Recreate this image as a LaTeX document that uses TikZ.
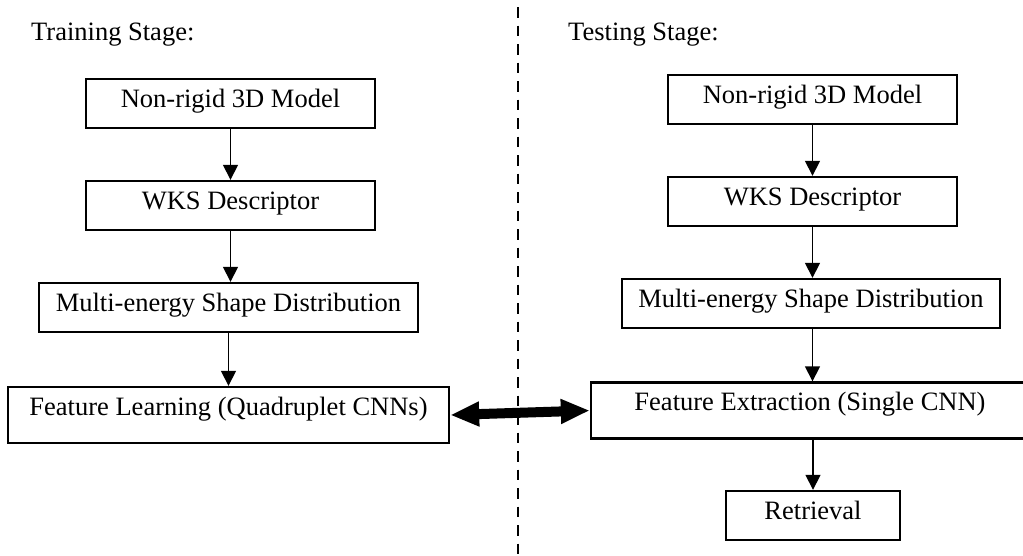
\documentclass[tikz,border=0pt]{standalone}
\usepackage{fontspec}
\setmainfont{Liberation Serif}
\usetikzlibrary{arrows.meta}

\tikzset{
  stagebox/.style={shape=rectangle,draw=black,line width=2.4pt,inner xsep=4pt,inner ysep=4pt,
    text height=24pt,text depth=17pt,font=\fontsize{26.5}{30}\selectfont},
  tallbox/.style={stagebox,text depth=24pt},
  flow/.style={-{Triangle[width=15pt,length=15pt]},line width=1.6pt},
}

\begin{document}
\begin{tikzpicture}[x=1pt,y=-1pt]
      \clip (0,0) rectangle (1023,555);

      % training side
      \node[anchor=base west,inner sep=0pt,font=\fontsize{26.5}{30}\selectfont] (trainlabel) at (31,40) {Training Stage:};
      \node[stagebox,minimum width=289pt] (A1) at (230.5,103.5) {Non-rigid 3D Model};
      \node[stagebox,minimum width=289pt] (A2) at (230.5,205.5) {WKS Descriptor};
      \node[stagebox,minimum width=379pt] (A3) at (228.5,307.5) {Multi-energy Shape Distribution};
      \node[tallbox,minimum width=441pt] (A4) at (228.5,415) {Feature Learning (Quadruplet CNNs)};

      % testing side
      \node[anchor=base west,inner sep=0pt,font=\fontsize{26.5}{30}\selectfont] (testlabel) at (568,40) {Testing Stage:};
      \node[stagebox,minimum width=289pt] (B1) at (812.5,99.5) {Non-rigid 3D Model};
      \node[stagebox,minimum width=289pt] (B2) at (812.5,201.5) {WKS Descriptor};
      \node[stagebox,minimum width=378pt] (B3) at (811,303.5) {Multi-energy Shape Distribution};
      \node[tallbox,minimum width=438pt] (B4) at (810,410.5) {Feature Extraction (Single CNN)};
      \node[stagebox,minimum width=174pt] (B5) at (813,515.5) {Retrieval};

      % divider
      \coordinate (top) at (518,7);
      \coordinate (bottom) at (518,560);
      \draw[line width=2.4pt,dash pattern=on 10.5pt off 8pt] (top) -- (bottom);

      \path [flow] (A1) edge (A2);
      \path [flow] (A2) edge (A1.south |- A3.north);
      \path [flow] (A3) edge (A4);
      \path [flow] (B1) edge (B2);
      \path [flow] (B2) edge (B2.south |- B3.north);
      \path [flow] (B3.south -| B2.south) edge (B2.south |- B4.north);
      \path [flow] (B4.south -| B5.north) edge (B5);

      \draw[{Triangle[width=23pt,length=29pt]}-{Triangle[width=23pt,length=29pt]},line width=10pt] (A4.east) -- (B4.west);
    \end{tikzpicture}
\end{document}
